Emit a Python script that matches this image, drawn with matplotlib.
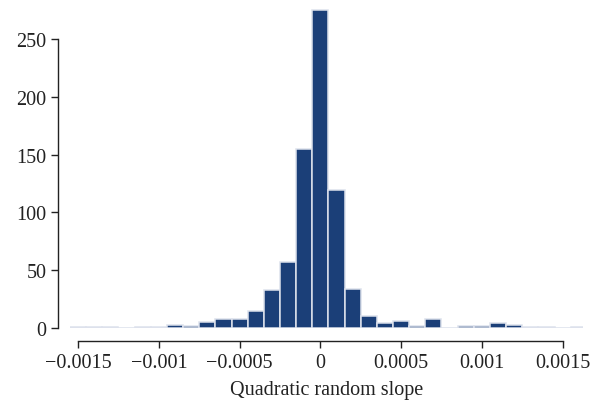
import numpy as np
import matplotlib.pyplot as plt

plt.rcParams['font.family'] = ['Liberation Serif', 'DejaVu Serif']

# Гистограмма: счётчики по корзинам шириной 0.0001
bin_edges = np.round(np.arange(-0.00155, 0.00166, 0.0001), 5)
counts = [1, 1, 1, 0, 1, 1, 3, 2, 5, 8, 8, 15, 33, 57, 155, 275,
          119, 34, 10, 4, 6, 2, 8, 0, 2, 2, 4, 3, 1, 1, 0, 1]
x_ticks = [-0.0015, -0.001, -0.0005, 0, 0.0005, 0.001, 0.0015]
x_tick_labels = ['\u22120.0015', '\u22120.001', '\u22120.0005', '0', '0.0005', '0.001', '0.0015']
y_ticks = [0, 50, 100, 150, 200, 250]

fig = plt.figure(figsize=(5.92, 4.10), dpi=100)
ax = fig.add_axes([0.1182, 0.1976, 0.8666, 0.7895])

centers = (bin_edges[:-1] + bin_edges[1:]) / 2
ax.hist(centers, bins=bin_edges, weights=counts, color='#1b3f78',
        edgecolor='#dde1ec', linewidth=1.1)

ax.set_xlim(-0.00155, 0.001626)
ax.set_ylim(0, 280)

ax.spines['top'].set_visible(False)
ax.spines['right'].set_visible(False)
ax.spines['left'].set_position(('outward', 8.3))
ax.spines['bottom'].set_position(('outward', 9.4))
ax.spines['left'].set_bounds(0, 250)
ax.spines['bottom'].set_bounds(-0.0015, 0.0015)
for s in ('left', 'bottom'):
    ax.spines[s].set_linewidth(1.0)
    ax.spines[s].set_color('#222222')

ax.set_xticks(x_ticks)
ax.set_xticklabels(x_tick_labels)
ax.set_yticks(y_ticks)
ax.tick_params(axis='both', direction='out', length=5, width=1.0,
               color='#222222', labelsize=14.5, labelcolor='#222222')
ax.set_xlabel('Quadratic random slope', fontsize=14.5, color='#222222', labelpad=6)

fig.savefig('out.png', dpi=100)
